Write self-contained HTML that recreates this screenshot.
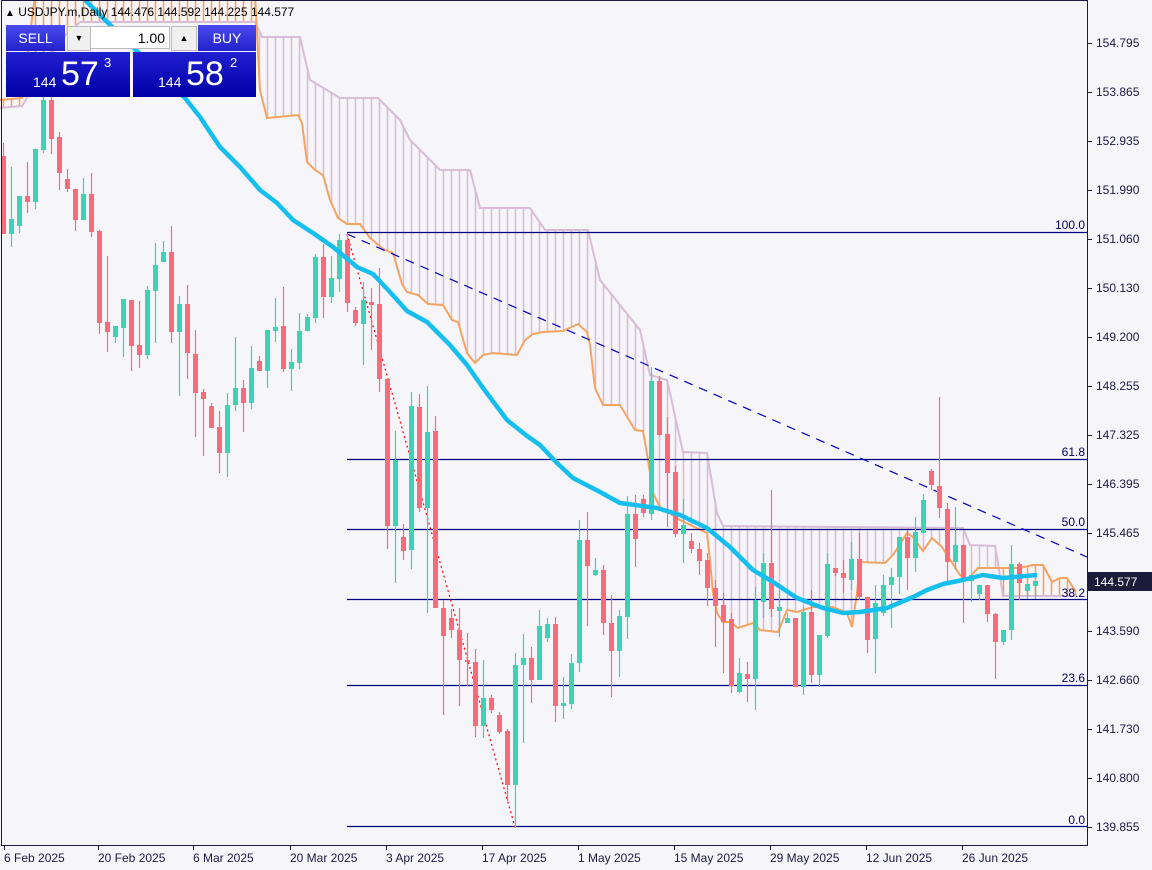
<!DOCTYPE html>
<html><head><meta charset="utf-8">
<style>
html,body{margin:0;padding:0;background:#f6f5fa;}
body{width:1152px;height:870px;overflow:hidden;position:relative;font-family:"Liberation Sans",sans-serif;}
svg{position:absolute;left:0;top:0;}
.panel{position:absolute;font-family:"Liberation Sans",sans-serif;}
</style></head><body>
<svg id="c" width="1152" height="870" xmlns="http://www.w3.org/2000/svg">
<rect x="0" y="0" width="1152" height="870" fill="#f6f5fa"/>
<g id="cloud"></g>
<g id="lines"></g>
<g id="fib" stroke="#000080" stroke-width="1.3">
<line x1="347" y1="232.5" x2="1087" y2="232.5"/>
<line x1="347" y1="459.5" x2="1087" y2="459.5"/>
<line x1="347" y1="529.5" x2="1087" y2="529.5"/>
<line x1="347" y1="599.5" x2="1087" y2="599.5"/>
<line x1="347" y1="685.5" x2="1087" y2="685.5"/>
<line x1="347" y1="826.5" x2="1087" y2="826.5"/>
</g>
<line x1="347" y1="234" x2="1087" y2="557" stroke="#0000c0" stroke-width="1.2" stroke-dasharray="9,7"/>
<line x1="347" y1="234" x2="515" y2="827" stroke="#ff0000" stroke-width="1.2" stroke-dasharray="2,3"/>
<g id="candles"></g>
<polyline id="ma" fill="none" stroke="#14bff0" stroke-width="4.5" stroke-linejoin="round"/>
<g font-family="Liberation Sans, sans-serif" font-size="12" fill="#000060" text-anchor="end">
<text x="1085" y="229">100.0</text>
<text x="1085" y="456">61.8</text>
<text x="1085" y="526">50.0</text>
<text x="1085" y="597">38.2</text>
<text x="1085" y="682">23.6</text>
<text x="1085" y="824">0.0</text>
</g>
<rect x="1.5" y="0.5" width="1086" height="845" fill="none" stroke="#1a1a40" stroke-width="1"/>
<g id="ticks" stroke="#1a1a40" stroke-width="1"></g>
<g font-family="Liberation Sans, sans-serif" font-size="12" fill="#1a1a40">
<text x="1096" y="47">154.795</text>
<text x="1096" y="96">153.865</text>
<text x="1096" y="145">152.935</text>
<text x="1096" y="194">151.990</text>
<text x="1096" y="243">151.060</text>
<text x="1096" y="292">150.130</text>
<text x="1096" y="341">149.200</text>
<text x="1096" y="390">148.255</text>
<text x="1096" y="439">147.325</text>
<text x="1096" y="488">146.395</text>
<text x="1096" y="537">145.465</text>
<text x="1096" y="635">143.590</text>
<text x="1096" y="684">142.660</text>
<text x="1096" y="733">141.730</text>
<text x="1096" y="782">140.800</text>
<text x="1096" y="831">139.855</text>
<text x="4" y="862">6 Feb 2025</text>
<text x="98" y="862">20 Feb 2025</text>
<text x="193" y="862">6 Mar 2025</text>
<text x="290" y="862">20 Mar 2025</text>
<text x="386" y="862">3 Apr 2025</text>
<text x="482" y="862">17 Apr 2025</text>
<text x="578" y="862">1 May 2025</text>
<text x="674" y="862">15 May 2025</text>
<text x="770" y="862">29 May 2025</text>
<text x="866" y="862">12 Jun 2025</text>
<text x="962" y="862">26 Jun 2025</text>
</g>
<rect x="1088" y="572" width="64" height="19" fill="#1b1b3a"/>
<text x="1094" y="586" font-family="Liberation Sans, sans-serif" font-size="12" fill="#ffffff">144.577</text>
<text x="5" y="16" font-family="Liberation Sans, sans-serif" font-size="12" fill="#000"><tspan font-size="10">▲</tspan> USDJPY.m,Daily  144.476 144.592 144.225 144.577</text>
</svg>

<div class="panel" style="left:6px;top:25px;width:59px;height:26px;background:linear-gradient(#4a4af0,#2222cc);color:#fff;font-size:14px;line-height:26px;text-align:center;">SELL</div>
<div class="panel" style="left:67px;top:26px;width:22px;height:23px;background:#f0f0f0;border:1px solid #bbb;font-size:9px;line-height:23px;text-align:center;color:#000;">▼</div>
<div class="panel" style="left:90px;top:26px;width:80px;height:23px;background:#fff;border:1px solid #bbb;font-size:14px;line-height:23px;text-align:right;color:#000;box-sizing:border-box;padding-right:4px;">1.00</div>
<div class="panel" style="left:171px;top:26px;width:24px;height:23px;background:#f0f0f0;border:1px solid #bbb;font-size:9px;line-height:23px;text-align:center;color:#000;">▲</div>
<div class="panel" style="left:198px;top:25px;width:58px;height:26px;background:linear-gradient(#4a4af0,#2222cc);color:#fff;font-size:14px;line-height:26px;text-align:center;">BUY</div>
<div class="panel" style="left:6px;top:52px;width:124px;height:45px;background:linear-gradient(#2020d0,#0000a8);color:#fff;">
  <span style="position:absolute;left:27px;top:22px;font-size:14px;">144</span>
  <span style="position:absolute;left:55px;top:3px;font-size:34px;">57</span>
  <span style="position:absolute;left:98px;top:3px;font-size:13px;">3</span>
</div>
<div class="panel" style="left:133px;top:52px;width:123px;height:45px;background:linear-gradient(#2020d0,#0000a8);color:#fff;">
  <span style="position:absolute;left:25px;top:22px;font-size:14px;">144</span>
  <span style="position:absolute;left:53px;top:3px;font-size:34px;">58</span>
  <span style="position:absolute;left:97px;top:3px;font-size:13px;">2</span>
</div>

<script>
var NS="http://www.w3.org/2000/svg";
function el(p,t,a){var e=document.createElementNS(NS,t);for(var k in a)e.setAttribute(k,a[k]);p.appendChild(e);return e;}
function interp(pts,x){if(x<=pts[0][0])return pts[0][1];for(var i=1;i<pts.length;i++){if(x<=pts[i][0]){var a=pts[i-1],b=pts[i];return a[1]+(b[1]-a[1])*(x-a[0])/(b[0]-a[0]);}}return pts[pts.length-1][1];}
var orange=[[0,100],[22,98],[35,-5],[255,-5],[260,90],[267,118],[298,115],[302,123],[307,162],[315,170],[323,175],[330,200],[338,218],[347,224],[360,224],[370,238],[383,249],[393,253],[402,284],[407,292],[418,295],[428,304],[443,305],[452,320],[458,322],[467,353],[475,363],[483,355],[493,353],[517,355],[525,340],[533,334],[543,332],[563,331],[578,324],[587,332],[590,345],[595,388],[603,405],[620,405],[635,430],[643,431],[648,460],[653,493],[660,507],[680,520],[707,533],[710,560],[713,593],[717,613],[723,622],[730,622],[738,628],[753,623],[760,630],[778,632],[787,610],[797,612],[813,607],[833,607],[847,613],[852,627],[857,593],[860,562],[885,563],[893,555],[907,533],[913,537],[923,551],[932,538],[942,547],[960,575],[967,580],[978,568],[1020,568],[1033,565],[1043,565],[1052,582],[1060,578],[1067,578],[1076,592]];
var lav=[[0,108],[22,106],[32,90],[60,40],[80,22],[255,22],[262,37],[300,37],[310,80],[340,98],[378,98],[400,120],[410,140],[440,170],[470,170],[480,208],[530,208],[545,230],[588,230],[600,280],[628,315],[640,330],[650,375],[667,380],[683,452],[707,453],[717,513],[723,526],[963,528],[970,545],[995,546],[998,563],[1003,596],[1076,596]];
var cl=document.getElementById('cloud');
for(var i=0;i<135;i++){var x=3.5+8*i;if(x>1076)break;var o=interp(orange,x),l=interp(lav,x);
 el(cl,'line',{x1:x,x2:x,y1:Math.max(o,0),y2:Math.max(l,0),stroke:(l<o?'#d8bcd8':'#f4a460'),'stroke-width':1.6});}
el(cl,'polyline',{points:lav.map(function(p){return p[0]+','+p[1]}).join(' '),fill:'none',stroke:'#d8bcd8','stroke-width':2});
el(cl,'polyline',{points:orange.map(function(p){return p[0]+','+p[1]}).join(' '),fill:'none',stroke:'#f4a460','stroke-width':2});
var ma=[[85,0],[100,15],[185,98],[200,117],[220,147],[240,167],[260,190],[277,203],[293,220],[313,233],[333,247],[357,267],[373,274],[390,292],[407,311],[427,322],[450,345],[467,365],[483,388],[507,420],[527,436],[540,445],[557,463],[573,478],[600,492],[620,503],[657,508],[680,515],[707,528],[730,547],[753,570],[773,582],[797,598],[823,608],[843,613],[860,612],[887,608],[913,597],[927,590],[943,584],[963,580],[983,575],[1003,578],[1037,575]];
document.getElementById('ma').setAttribute('points',ma.map(function(p){return p[0]+','+p[1]}).join(' '));
// [color, bodyTop, bodyBot, wickTop, wickBot]
var C=[['r',156,234,143,234],['g',219,234,167,247],['g',196,226,196,233],['r',196,202,162,213],['g',149,202,149,209],['g',100,150,95,153],['r',100,139,95,154],['r',137,173,132,190],['r',179,189,169,192],['r',189,220,189,231],
['g',194,220,178,220],['r',194,232,173,237],['r',231,323,230,334],['r',322,332,256,352],['g',326,337,326,343],['g',299,328,299,357],['r',300,346,300,371],['r',345,355,301,368],['g',290,355,286,359],['g',265,291,243,343],
['g',252,262,241,262],['r',252,332,226,343],['g',304,332,296,396],['r',304,353,285,379],['r',354,393,330,437],['r',392,399,389,456],['r',406,428,403,428],['r',427,453,411,473],['g',405,453,393,477],['g',388,405,337,411],
['r',388,403,380,432],['g',368,403,346,409],['r',361,371,356,371],['g',330,371,330,388],['g',327,331,298,342],['r',326,369,287,372],['g',362,369,349,391],['g',331,363,313,369],['g',317,331,314,331],['g',257,318,254,323],
['r',257,297,244,318],['g',278,297,256,303],['g',240,279,234,292],['r',240,303,233,312],['r',310,323,307,326],['g',300,324,282,365],['r',302,305,288,350],['r',304,379,268,392],['r',379,526,379,549],['g',460,526,431,583],
['r',537,551,524,560],['g',406,550,392,569],['r',407,508,394,512],['g',432,508,386,613],['r',431,608,416,608],['r',608,636,600,715],['r',618,630,609,638],['r',630,660,608,706],['r',660,662,633,686],['r',662,726,649,737],
['g',698,726,660,738],['r',698,710,695,713],['r',715,732,712,734],['r',731,785,729,801],['g',665,785,653,828],['g',658,665,634,743],['r',658,680,647,703],['g',626,680,610,680],['g',624,638,618,642],['r',624,706,617,722],
['g',703,706,677,719],['g',663,704,654,709],['g',540,663,520,672],['r',540,566,512,626],['g',570,575,558,576],['r',570,623,565,635],['r',623,651,595,697],['g',616,651,610,677],['g',514,617,496,639],['r',514,539,495,567],
['r',499,513,495,517],['g',381,514,367,520],['r',381,435,376,436],['r',434,473,417,527],['r',472,534,466,537],['g',525,534,499,563],['r',541,549,533,553],['r',549,561,543,575],['r',560,588,553,606],['r',588,606,580,647],
['r',605,622,593,673],['r',619,686,613,693],['g',673,692,658,693],['r',674,679,662,702],['g',600,679,587,710],['g',563,602,553,618],['r',563,609,490,617],['g',607,611,590,637],['g',618,623,613,623],['r',618,687,618,687],
['g',612,687,607,695],['r',612,675,590,683],['g',635,675,635,687],['g',564,636,553,638],['r',568,573,568,576],['r',573,578,560,593],['g',559,580,542,590],['r',559,597,533,600],['r',597,640,597,653],['g',603,639,585,673],
['g',585,613,575,616],['g',577,585,568,628],['g',537,577,537,594],['r',537,558,530,590],['g',532,558,517,572],['g',500,533,494,533],['r',471,485,469,490],['r',486,508,397,518],['r',509,562,503,583],['g',545,562,507,570],
['r',545,581,545,623],['g',575,581,575,602],['g',585,594,585,600],['r',585,614,585,622],['r',614,642,613,679],['g',630,642,630,645],['g',564,630,545,640],['r',564,583,562,600],['g',584,591,584,599],['g',581,586,581,599]];
var cg=document.getElementById('candles');
C.forEach(function(c,i){var x=3.5+8*i;var col=c[0]=='g'?'#3cd2b6':'#f76b7b';
 el(cg,'line',{x1:x,x2:x,y1:c[3],y2:c[4],stroke:col,'stroke-width':1.2});
 el(cg,'rect',{x:x-2.5,y:c[1],width:5,height:Math.max(c[2]-c[1],1.5),fill:col});});
var tk=document.getElementById('ticks');
[43,92,141,190,239,288,337,386,435,484,533,631,680,729,778,827].forEach(function(y){el(tk,'line',{x1:1087,x2:1092,y1:y+.5,y2:y+.5});});
[4,98,193,290,386,482,578,674,770,866,962].forEach(function(x){el(tk,'line',{x1:x+.5,x2:x+.5,y1:845,y2:850});});
</script>
</body></html>
